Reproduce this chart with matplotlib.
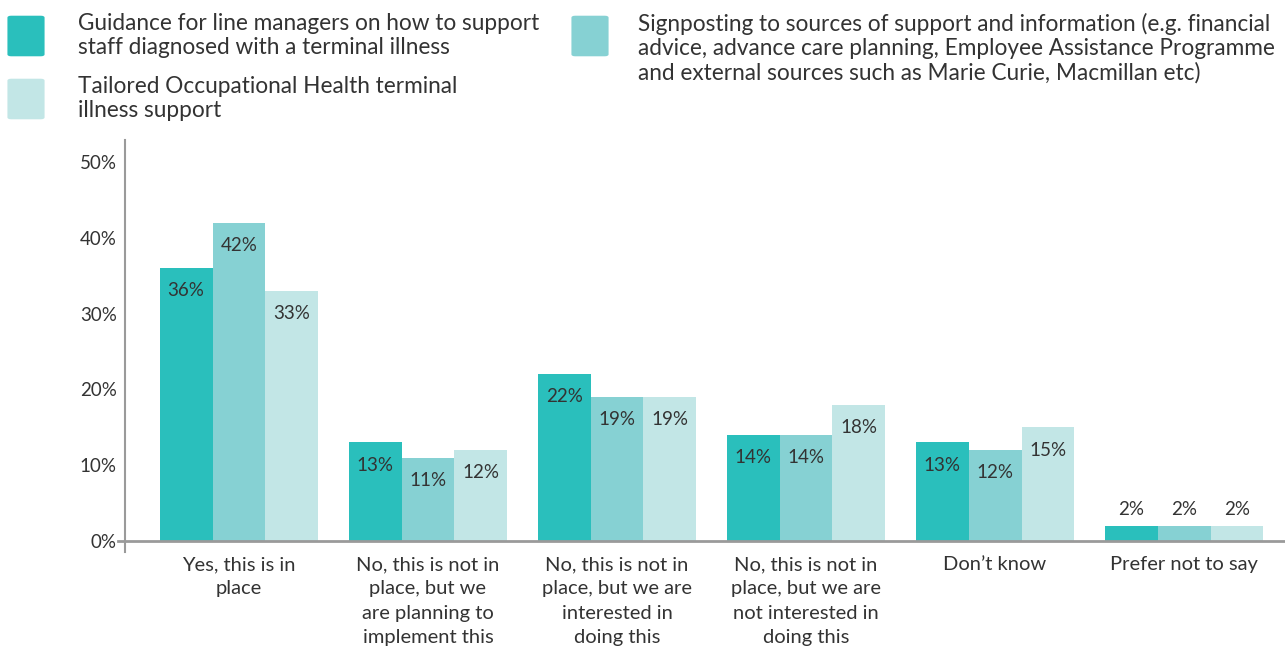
import matplotlib.pyplot as plt
from matplotlib.patches import FancyBboxPatch
import numpy as np

CATEGORIES = [
    "Yes, this is in\nplace",
    "No, this is not in\nplace, but we\nare planning to\nimplement this",
    "No, this is not in\nplace, but we are\ninterested in\ndoing this",
    "No, this is not in\nplace, but we are\nnot interested in\ndoing this",
    "Don\u2019t know",
    "Prefer not to say",
]
SERIES_LABELS = [
    "Guidance for line managers on how to support\nstaff diagnosed with a terminal illness",
    "Signposting to sources of support and information (e.g. financial\n"
    "advice, advance care planning, Employee Assistance Programme\n"
    "and external sources such as Marie Curie, Macmillan etc)",
    "Tailored Occupational Health terminal\nillness support",
]
GUIDANCE = [36, 13, 22, 14, 13, 2]
SIGNPOSTING = [42, 11, 19, 14, 12, 2]
TAILORED = [33, 12, 19, 18, 15, 2]
Y_TICKS = [0, 10, 20, 30, 40, 50]

COLORS = ["#2abfbc", "#86d1d3", "#c2e6e6"]
TEXT = "#333333"
AXIS_GREY = "#9a9a9a"
FONT = "Lato"

plt.rcParams["font.family"] = [FONT, "DejaVu Sans"]

W, H = 1285, 646
fig = plt.figure(figsize=(W / 100, H / 100), dpi=100)
ax = fig.add_axes([125 / W, 94 / H, 1 - 125 / W, (552 - 140) / H])

x = np.arange(len(CATEGORIES))
width = 0.28
for i, (vals, color) in enumerate(zip([GUIDANCE, SIGNPOSTING, TAILORED], COLORS)):
    pos = x + (i - 1) * width
    ax.bar(pos, vals, width=width, color=color, zorder=2)
    for xp, v in zip(pos, vals):
        if v >= 5:
            ax.text(xp, v - 3.0, f"{v}%", ha="center", va="center", fontsize=13.5, color=TEXT)
        else:
            ax.text(xp, v + 2.2, f"{v}%", ha="center", va="center", fontsize=13.5, color=TEXT)

ax.set_xlim(-0.603, 5.534)
ax.set_ylim(-1.45, 52.9)
ax.axhline(0, xmin=-0.006, xmax=1, color=AXIS_GREY, linewidth=2, clip_on=False, zorder=3)

for side in ("top", "right", "bottom"):
    ax.spines[side].set_visible(False)
ax.spines["left"].set_color(AXIS_GREY)
ax.spines["left"].set_linewidth(1.5)

ax.set_yticks(Y_TICKS)
ax.set_yticklabels([f"{t}%" for t in Y_TICKS])
ax.set_xticks(x)
ax.set_xticklabels(CATEGORIES, linespacing=1.52)
ax.tick_params(axis="y", length=0, pad=6, labelsize=13.5, labelcolor=TEXT)
ax.tick_params(axis="x", length=0, pad=3, labelsize=14.5, labelcolor=TEXT)

# legend drawn by hand in pixel positions
legend_items = [
    (8, 15, 78, SERIES_LABELS[0], COLORS[0]),
    (572, 15, 638, SERIES_LABELS[1], COLORS[1]),
    (8, 78, 78, SERIES_LABELS[2], COLORS[2]),
]
for px, py, tx, label, color in legend_items:
    box = FancyBboxPatch(
        ((px + 2) / W, 1 - (py + 40) / H), 32 / W, 38 / H,
        boxstyle="round,pad=0.002,rounding_size=0.003",
        transform=fig.transFigure, facecolor=color, edgecolor="none",
    )
    fig.patches.append(box)
    fig.text(tx / W, 1 - (py - 2) / H, label, ha="left", va="top",
             fontsize=16.3, color=TEXT, linespacing=1.18)

fig.savefig("out.png", dpi=100)
